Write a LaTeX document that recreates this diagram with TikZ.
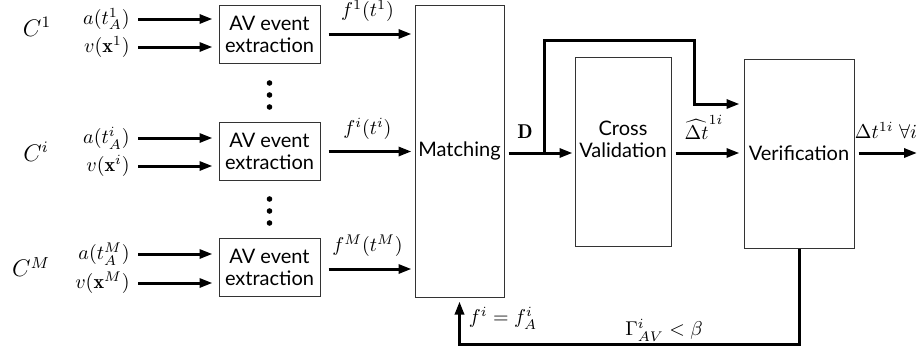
\documentclass[tikz,border=0pt]{standalone}
\usepackage{amsmath,amssymb}
\usepackage{fontspec}
\newfontfamily\boxfont{Lato}
\usepackage{tikz}
\usetikzlibrary{arrows.meta}
\tikzset{flow/.style={line width=1.5pt,-{Triangle[length=6.5pt,width=4.5pt]}}}
\tikzset{stage/.style={draw=black!80,line width=0.5pt,align=center,font=\boxfont,inner sep=1pt}}
\tikzset{avbox/.style={stage,minimum width=50.5pt,minimum height=29pt}}
\tikzset{inlab/.style={anchor=east,inner sep=0pt}}

\begin{document}
\begin{tikzpicture}[x=0.5pt,y=-0.5pt]
                \useasboundingbox (0,0) rectangle (917,354);

                % Event extraction per camera
                \node[avbox] (ex1) at (269.5,34) {AV event\\[-1pt]extraction};
                \node[avbox] (exi) at (269.5,151.5) {AV event\\[-1pt]extraction};
                \node[avbox] (exM) at (269.5,267.5) {AV event\\[-1pt]extraction};

                \node[font=\large] (c1) at (37,27) {$C^1$};
                \node[font=\large] (ci) at (36,152) {$C^i$};
                \node[font=\large] (cM) at (31,267) {$C^M$};

                \node[inlab] (a1) at (130,19) {$a(t_A^1)$};
                \node[inlab] (v1) at (130,47) {$v(\mathbf{x}^1)$};
                \node[inlab] (ai) at (130,138) {$a(t_A^i)$};
                \node[inlab] (vi) at (130,166) {$v(\mathbf{x}^i)$};
                \node[inlab] (aM) at (130,254) {$a(t_A^M)$};
                \node[inlab] (vM) at (130,283) {$v(\mathbf{x}^M)$};

                \draw[flow,shorten <=4pt,shorten >=3pt] (a1.east) -- (a1.east -| ex1.west);
                \draw[flow,shorten <=4pt,shorten >=3pt] (v1.east) -- (v1.east -| ex1.west);
                \draw[flow,shorten <=4pt,shorten >=3pt] (ai.east) -- (ai.east -| exi.west);
                \draw[flow,shorten <=4pt,shorten >=3pt] (vi.east) -- (vi.east -| exi.west);
                \draw[flow,shorten <=4pt,shorten >=3pt] (aM.east) -- (aM.east -| exM.west);
                \draw[flow,shorten <=4pt,shorten >=3pt] (vM.east) -- (vM.east -| exM.west);

                % Dots between the rows
                \foreach \y in {83,95,107,199,211,223}
                    \fill (269.5,\y) circle (1.4pt);

                % Processing stages
                \node[stage,minimum width=44.5pt,minimum height=146pt] (match) at (459.5,151) {Matching};
                \node[stage,minimum width=48pt,minimum height=94.5pt,
                      label={[font=\boxfont,align=center,yshift=6pt]center:Cross\\[-1pt]Validation}] (cv) at (623,151.5) {};
                \node[stage,minimum width=55pt,minimum height=94.5pt] (ver) at (799,153.5) {Verification};

                \draw[flow,shorten <=4pt,shorten >=1.5pt] (ex1.east) -- (ex1.east -| match.west)
                    node[midway,above=2pt] {$f^1(t^1)$};
                \draw[flow,shorten <=4pt,shorten >=1.5pt] (exi.east) -- (exi.east -| match.west)
                    node[midway,above=2pt] {$f^i(t^i)$};
                \draw[flow,shorten <=4pt,shorten >=1.5pt] ([yshift=-0.75pt]exM.east) -- ([yshift=-0.75pt]exM.east -| match.west)
                    node[midway,above=2pt] {$f^M(t^M)$};

                \coordinate (split) at (544,153);
                \coordinate (top) at (694,40);
                \coordinate (knee) at (694,104);
                \coordinate (loop) at (0,344);

                \draw[flow,shorten <=2pt,shorten >=1pt] (match.east |- split) -- (split -| cv.west);
                \node (dlab) at (525,132) {$\mathbf{D}$};
                \draw[flow,shorten >=2pt] (split) |- (top) -- (knee) -- (knee -| ver.west);

                % Estimated offset and final output
                \node[inner sep=0pt] (hlab) at (704,127) {$\widehat{\Delta t}^{1i}$};
                \draw[flow,shorten <=2pt,shorten >=2pt] (cv.east |- split) -- (split -| ver.west);
                \node[inner sep=0pt] (olab) at (886,130) {$\Delta t^{1i}\;\forall i$};
                \draw[flow,shorten <=2pt] (ver.east |- split) -- (917,153);

                % Feedback loop
                \draw[flow,shorten >=2pt] (ver.south) |- (loop -| match.south) -- (match.south);
                \node (flab) at (503,318) {$f^i = f_A^i$};
                \node (glab) at (664,330) {$\Gamma_{AV}^i < \beta$};
            \end{tikzpicture}
\end{document}
